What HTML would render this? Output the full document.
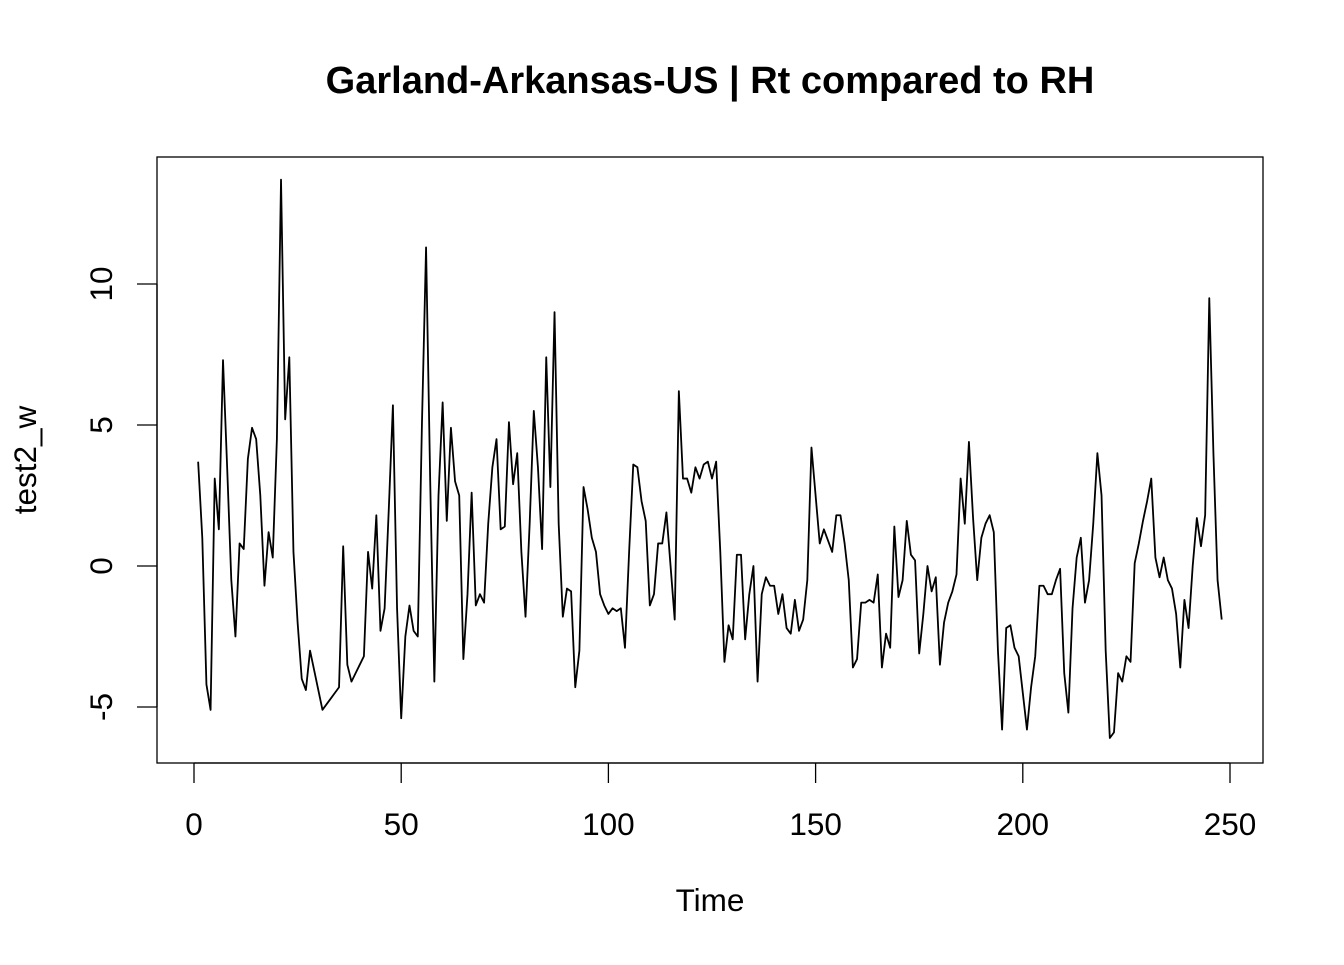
<!DOCTYPE html>
<html><head><meta charset="utf-8"><style>
body{margin:0;background:#fff}
svg text{font-family:"Liberation Sans",Arial,sans-serif;fill:#000}
</style></head><body>
<svg width="1344" height="960" xmlns="http://www.w3.org/2000/svg">
<text x="710" y="93" text-anchor="middle" font-size="38" font-weight="bold">Garland-Arkansas-US | Rt compared to RH</text>
<rect x="157" y="157" width="1106" height="606" fill="none" stroke="#000" stroke-width="1.3"/>
<g id="axes"></g>
<path id="line" fill="none" stroke="#000" stroke-width="1.8" stroke-linejoin="round"/>
<text x="710" y="911" text-anchor="middle" font-size="31.5">Time</text>
<text transform="translate(36,460) rotate(-90)" text-anchor="middle" font-size="31.5">test2_w</text>
</svg>
<script>
const xTicks=[0,50,100,150,200,250];
const yTicks=[-5,0,5,10];
const values=[3.7,1.0,-4.2,-5.1,3.1,1.3,7.3,3.5,-0.5,-2.5,0.8,0.6,3.8,4.9,4.5,2.5,-0.7,1.2,0.3,4.5,
13.7,5.2,7.4,0.5,-2.0,-4.0,-4.4,-3.0,-3.7,-4.4,-5.1,-4.9,-4.7,-4.5,-4.3,0.7,-3.5,-4.1,-3.8,-3.5,
-3.2,0.5,-0.8,1.8,-2.3,-1.5,2.0,5.7,-1.5,-5.4,-2.5,-1.4,-2.3,-2.5,5.0,11.3,3.0,-4.1,2.5,5.8,
1.6,4.9,3.0,2.5,-3.3,-1.0,2.6,-1.4,-1.0,-1.3,1.5,3.5,4.5,1.3,1.4,5.1,2.9,4.0,0.5,-1.8,
1.5,5.5,3.5,0.6,7.4,2.8,9.0,1.5,-1.8,-0.8,-0.9,-4.3,-3.0,2.8,2.0,1.0,0.5,-1.0,-1.4,-1.7,
-1.5,-1.6,-1.5,-2.9,0.5,3.6,3.5,2.3,1.6,-1.4,-1.0,0.8,0.8,1.9,0.0,-1.9,6.2,3.1,3.1,2.6,
3.5,3.1,3.6,3.7,3.1,3.7,0.5,-3.4,-2.1,-2.6,0.4,0.4,-2.6,-1.0,0.0,-4.1,-1.0,-0.4,-0.7,-0.7,
-1.7,-1.0,-2.2,-2.4,-1.2,-2.3,-1.9,-0.5,4.2,2.5,0.8,1.3,0.9,0.5,1.8,1.8,0.8,-0.5,-3.6,-3.3,
-1.3,-1.3,-1.2,-1.3,-0.3,-3.6,-2.4,-2.9,1.4,-1.1,-0.5,1.6,0.4,0.2,-3.1,-1.7,0.0,-0.9,-0.4,-3.5,
-2.0,-1.3,-0.9,-0.3,3.1,1.5,4.4,1.7,-0.5,1.0,1.5,1.8,1.2,-3.0,-5.8,-2.2,-2.1,-2.9,-3.2,-4.5,
-5.8,-4.3,-3.2,-0.7,-0.7,-1.0,-1.0,-0.5,-0.1,-3.8,-5.2,-1.5,0.3,1.0,-1.3,-0.5,1.5,4.0,2.5,-3.0,
-6.1,-5.9,-3.8,-4.1,-3.2,-3.4,0.1,0.8,1.6,2.3,3.1,0.3,-0.4,0.3,-0.5,-0.8,-1.7,-3.6,-1.2,-2.2,
0.0,1.7,0.7,1.8,9.5,4.0,-0.5,-1.9];
const sx=t=>194+t*(1230-194)/250;
const sy=v=>566-v*(566-284)/10;
const NS="http://www.w3.org/2000/svg";
const g=document.getElementById('axes');
function mk(tag,attrs){const e=document.createElementNS(NS,tag);for(const k in attrs)e.setAttribute(k,attrs[k]);g.appendChild(e);return e;}
mk('line',{x1:sx(xTicks[0]),x2:sx(xTicks[xTicks.length-1]),y1:763,y2:763,stroke:'#000','stroke-width':1.3});
xTicks.forEach(t=>{
 const l=mk('line',{x1:sx(t),x2:sx(t),y1:763,y2:783,stroke:'#000','stroke-width':1.3});
 
 
 const tx=mk('text',{x:sx(t),y:835,'text-anchor':'middle','font-size':31.5});
 tx.textContent=t;
 
 
});
mk('line',{x1:157,x2:157,y1:sy(yTicks[0]),y2:sy(yTicks[yTicks.length-1]),stroke:'#000','stroke-width':1.3});
yTicks.forEach(v=>{
 const l=mk('line',{x1:137,x2:157,y1:sy(v),y2:sy(v),stroke:'#000','stroke-width':1.3});
 
 
 const tx=mk('text',{transform:`translate(112,${sy(v)}) rotate(-90)`,'text-anchor':'middle','font-size':31.5});
 tx.textContent=v;
 
 
});
document.getElementById('line').setAttribute('d',values.map((v,i)=>(i?'L':'M')+sx(i+1).toFixed(2)+','+sy(v).toFixed(2)).join(''));
</script>
</body></html>
